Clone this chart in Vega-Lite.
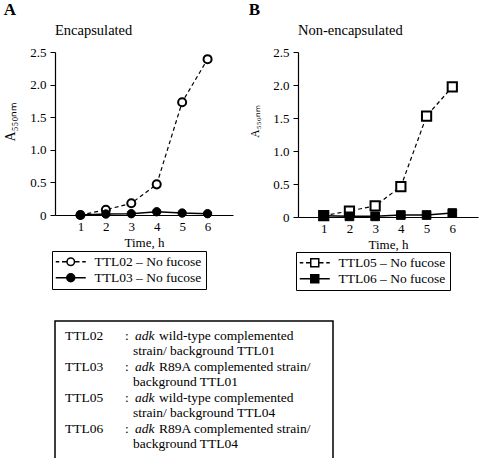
{
  "$schema": "https://vega.github.io/schema/vega-lite/v6.json",
  "padding": {"left": 3, "top": 0, "right": 5, "bottom": 2},
  "background": "white",
  "datasets": {
    "A": [
      {"series": "TTL02 – No fucose", "time": 1, "value": 0.0},
      {"series": "TTL02 – No fucose", "time": 2, "value": 0.08},
      {"series": "TTL02 – No fucose", "time": 3, "value": 0.18},
      {"series": "TTL02 – No fucose", "time": 4, "value": 0.47},
      {"series": "TTL02 – No fucose", "time": 5, "value": 1.73},
      {"series": "TTL02 – No fucose", "time": 6, "value": 2.39},
      {"series": "TTL03 – No fucose", "time": 1, "value": 0.0},
      {"series": "TTL03 – No fucose", "time": 2, "value": 0.015},
      {"series": "TTL03 – No fucose", "time": 3, "value": 0.02},
      {"series": "TTL03 – No fucose", "time": 4, "value": 0.05},
      {"series": "TTL03 – No fucose", "time": 5, "value": 0.03},
      {"series": "TTL03 – No fucose", "time": 6, "value": 0.02}
    ],
    "B": [
      {"series": "TTL05 – No fucose", "time": 1, "value": 0.02},
      {"series": "TTL05 – No fucose", "time": 2, "value": 0.09},
      {"series": "TTL05 – No fucose", "time": 3, "value": 0.17},
      {"series": "TTL05 – No fucose", "time": 4, "value": 0.46},
      {"series": "TTL05 – No fucose", "time": 5, "value": 1.53},
      {"series": "TTL05 – No fucose", "time": 6, "value": 1.97},
      {"series": "TTL06 – No fucose", "time": 1, "value": 0.02},
      {"series": "TTL06 – No fucose", "time": 2, "value": 0.01},
      {"series": "TTL06 – No fucose", "time": 3, "value": 0.01},
      {"series": "TTL06 – No fucose", "time": 4, "value": 0.03},
      {"series": "TTL06 – No fucose", "time": 5, "value": 0.03},
      {"series": "TTL06 – No fucose", "time": 6, "value": 0.06}
    ],
    "notes": [
      {"line": 1, "id": "TTL02", "colon": ":", "adk": "adk", "first": "wild-type complemented", "cont": ""},
      {"line": 2, "id": "", "colon": "", "adk": "", "first": "", "cont": "strain/ background TTL01"},
      {"line": 3, "id": "TTL03", "colon": ":", "adk": "adk", "first": "R89A complemented strain/", "cont": ""},
      {"line": 4, "id": "", "colon": "", "adk": "", "first": "", "cont": "background TTL01"},
      {"line": 5, "id": "TTL05", "colon": ":", "adk": "adk", "first": "wild-type complemented", "cont": ""},
      {"line": 6, "id": "", "colon": "", "adk": "", "first": "", "cont": "strain/ background TTL04"},
      {"line": 7, "id": "TTL06", "colon": ":", "adk": "adk", "first": "R89A complemented strain/", "cont": ""},
      {"line": 8, "id": "", "colon": "", "adk": "", "first": "", "cont": "background TTL04"}
    ]
  },
  "config": {
    "view": {"stroke": null},
    "font": "Liberation Serif, Times New Roman, serif",
    "axis": {
      "grid": false,
      "domainColor": "black",
      "domainWidth": 1.2,
      "tickColor": "black",
      "labelColor": "black",
      "titleColor": "black",
      "labelFont": "Liberation Serif, Times New Roman, serif",
      "titleFont": "Liberation Serif, Times New Roman, serif",
      "labelFontSize": 13,
      "titleFontSize": 13,
      "titleFontWeight": "normal",
      "labelOverlap": false,
      "labelFlush": false
    },
    "legend": {
      "labelFont": "Liberation Serif, Times New Roman, serif",
      "labelColor": "black",
      "labelFontSize": 13.5
    },
    "title": {"font": "Liberation Serif, Times New Roman, serif", "color": "black"}
  },
  "vconcat": [
    {
      "resolve": {"scale": {"shape": "independent"}, "legend": {"shape": "independent"}},
      "hconcat": [
        {
          "title": {"text": "A", "anchor": "start", "frame": "bounds", "fontSize": 17, "fontWeight": "bold", "offset": 4},
          "vconcat": [
            {
              "width": 178,
              "height": 163,
              "title": {"text": "Encapsulated", "anchor": "start", "frame": "group", "fontSize": 14.5, "fontWeight": "normal", "offset": 8},
              "data": {"name": "A"},
              "encoding": {
                "x": {"field": "time", "type": "quantitative", "scale": {"domain": [0, 7], "nice": false}, "axis": {"values": [1, 2, 3, 4, 5, 6], "title": "Time, h", "tickSize": 0, "labelPadding": 5, "titlePadding": 3, "format": "d", "labelOverlap": false}},
                "y": {"field": "value", "type": "quantitative", "scale": {"domain": [0, 2.5], "nice": false}, "axis": {"values": [0, 0.5, 1, 1.5, 2, 2.5], "labelExpr": "datum.value == 0 ? '0' : format(datum.value, '.1f')", "title": "A₅₅₀ₙₘ", "titleFontSize": 14, "tickSize": 5, "labelPadding": 4, "titlePadding": 12, "titleY": 69, "labelOverlap": false}}
              },
              "layer": [
                {
                  "transform": [{"filter": "datum.series == 'TTL02 – No fucose'"}],
                  "mark": {"type": "line", "color": "black", "strokeWidth": 1.2, "strokeDash": [4, 3]}
                },
                {
                  "transform": [{"filter": "datum.series == 'TTL02 – No fucose'"}],
                  "mark": {"type": "point", "shape": "circle", "filled": true, "fill": "white", "stroke": "black", "strokeWidth": 2, "size": 65, "opacity": 1}
                },
                {
                  "transform": [{"filter": "datum.series == 'TTL03 – No fucose'"}],
                  "mark": {"type": "line", "color": "black", "strokeWidth": 1.5}
                },
                {
                  "transform": [{"filter": "datum.series == 'TTL03 – No fucose'"}],
                  "mark": {"type": "point", "shape": "circle", "filled": true, "fill": "black", "stroke": "black", "strokeWidth": 1, "size": 70, "opacity": 1}
                },
                {
                  "data": {"values": []},
                  "mark": {"type": "point", "filled": false, "color": "black", "strokeWidth": 1.5, "opacity": 1},
                  "encoding": {
                    "x": null, "y": null,
                    "shape": {"field": "series", "type": "nominal",
                      "scale": {"domain": ["TTL02 – No fucose", "TTL03 – No fucose"], "range": [
                        "M-3,0H-2.3M-1.75,0H-0.75M0.75,0H1.75M2.3,0H3M-0.75,0A0.75,0.75 0 1,1 0.75,0A0.75,0.75 0 1,1 -0.75,0Z",
                        "M-3,0H3M-0.8,0A0.8,0.8 0 1,1 0.8,0A0.8,0.8 0 1,1 -0.8,0ZM-0.55,0A0.55,0.55 0 1,1 0.55,0A0.55,0.55 0 1,1 -0.55,0ZM-0.3,0A0.3,0.3 0 1,1 0.3,0A0.3,0.3 0 1,1 -0.3,0ZM-0.08,0A0.08,0.08 0 1,1 0.08,0A0.08,0.08 0 1,1 -0.08,0Z"
                      ]},
                      "legend": {"title": null, "orient": "none", "legendX": -3, "legendY": 199, "strokeColor": "black", "padding": 4, "symbolSize": 100, "symbolOffset": 8, "labelOffset": 17, "rowPadding": 1, "symbolStrokeColor": "black", "symbolStrokeWidth": 1.5, "symbolFillColor": "white", "fillColor": "white"}}
                  }
                }
              ]
            }
          ]
        },
        {
          "title": {"text": "B", "anchor": "start", "frame": "bounds", "fontSize": 17, "fontWeight": "bold", "offset": 4, "dx": -1},
          "vconcat": [
            {
              "width": 180,
              "height": 165,
              "title": {"text": "Non-encapsulated", "anchor": "start", "frame": "group", "fontSize": 14.5, "fontWeight": "normal", "offset": 8},
              "data": {"name": "B"},
              "encoding": {
                "x": {"field": "time", "type": "quantitative", "scale": {"domain": [0, 7], "nice": false}, "axis": {"values": [1, 2, 3, 4, 5, 6], "title": "Time, h", "tickSize": 0, "labelPadding": 5, "titlePadding": 3, "format": "d", "labelOverlap": false}},
                "y": {"field": "value", "type": "quantitative", "scale": {"domain": [0, 2.5], "nice": false}, "axis": {"values": [0, 0.5, 1, 1.5, 2, 2.5], "labelExpr": "datum.value == 0 ? '0' : format(datum.value, '.1f')", "title": "A₅₅₀ₙₘ", "titleFontSize": 11.5, "tickSize": 5, "labelPadding": 4, "titlePadding": 12, "titleY": 69, "labelOverlap": false}}
              },
              "layer": [
                {
                  "transform": [{"filter": "datum.series == 'TTL05 – No fucose'"}],
                  "mark": {"type": "line", "color": "black", "strokeWidth": 1.2, "strokeDash": [4, 3]}
                },
                {
                  "transform": [{"filter": "datum.series == 'TTL05 – No fucose'"}],
                  "mark": {"type": "point", "shape": "square", "filled": true, "fill": "white", "stroke": "black", "strokeWidth": 2, "size": 85, "opacity": 1}
                },
                {
                  "transform": [{"filter": "datum.series == 'TTL06 – No fucose'"}],
                  "mark": {"type": "line", "color": "black", "strokeWidth": 1.5}
                },
                {
                  "transform": [{"filter": "datum.series == 'TTL06 – No fucose'"}],
                  "mark": {"type": "point", "shape": "square", "filled": true, "fill": "black", "stroke": "black", "strokeWidth": 1, "size": 75, "opacity": 1}
                },
                {
                  "data": {"values": []},
                  "mark": {"type": "point", "filled": false, "color": "black", "strokeWidth": 1.5, "opacity": 1},
                  "encoding": {
                    "x": null, "y": null,
                    "shape": {"field": "series", "type": "nominal",
                      "scale": {"domain": ["TTL05 – No fucose", "TTL06 – No fucose"], "range": [
                        "M-3,0H-2.3M-1.75,0H-0.8M0.8,0H1.75M2.3,0H3M-0.8,-0.8H0.8V0.8H-0.8Z",
                        "M-3,0H3M-0.8,-0.8H0.8V0.8H-0.8ZM-0.55,-0.55H0.55V0.55H-0.55ZM-0.3,-0.3H0.3V0.3H-0.3ZM-0.08,-0.08H0.08V0.08H-0.08Z"
                      ]},
                      "legend": {"title": null, "orient": "none", "legendX": -2, "legendY": 200, "strokeColor": "black", "padding": 4, "symbolSize": 100, "symbolOffset": 8, "labelOffset": 17, "rowPadding": 1, "symbolStrokeColor": "black", "symbolStrokeWidth": 1.5, "symbolFillColor": "white", "fillColor": "white"}}
                  }
                }
              ]
            }
          ]
        }
      ],
      "spacing": 15
    },
    {
      "width": 278,
      "height": 138,
      "data": {"name": "notes"},
      "view": {"stroke": "black", "strokeWidth": 1.5},
      "encoding": {
        "y": {"field": "line", "type": "ordinal", "scale": {"type": "point", "padding": 0.95}, "axis": null}
      },
      "layer": [
        {
          "mark": {"type": "text", "align": "left", "baseline": "middle", "fontSize": 13.5, "color": "black"},
          "encoding": {"x": {"datum": 10, "type": "quantitative", "scale": {"domain": [0, 278], "nice": false, "zero": false}, "axis": null}, "text": {"field": "id"}}
        },
        {
          "mark": {"type": "text", "align": "left", "baseline": "middle", "fontSize": 13.5, "color": "black"},
          "encoding": {"x": {"datum": 70, "type": "quantitative"}, "text": {"field": "colon"}}
        },
        {
          "mark": {"type": "text", "align": "left", "baseline": "middle", "fontSize": 13.5, "fontStyle": "italic", "color": "black"},
          "encoding": {"x": {"datum": 80, "type": "quantitative"}, "text": {"field": "adk"}}
        },
        {
          "mark": {"type": "text", "align": "left", "baseline": "middle", "fontSize": 13.5, "color": "black"},
          "encoding": {"x": {"datum": 104, "type": "quantitative"}, "text": {"field": "first"}}
        },
        {
          "mark": {"type": "text", "align": "left", "baseline": "middle", "fontSize": 13.5, "color": "black"},
          "encoding": {"x": {"datum": 78, "type": "quantitative"}, "text": {"field": "cont"}}
        }
      ]
    }
  ],
  "spacing": 29
}
